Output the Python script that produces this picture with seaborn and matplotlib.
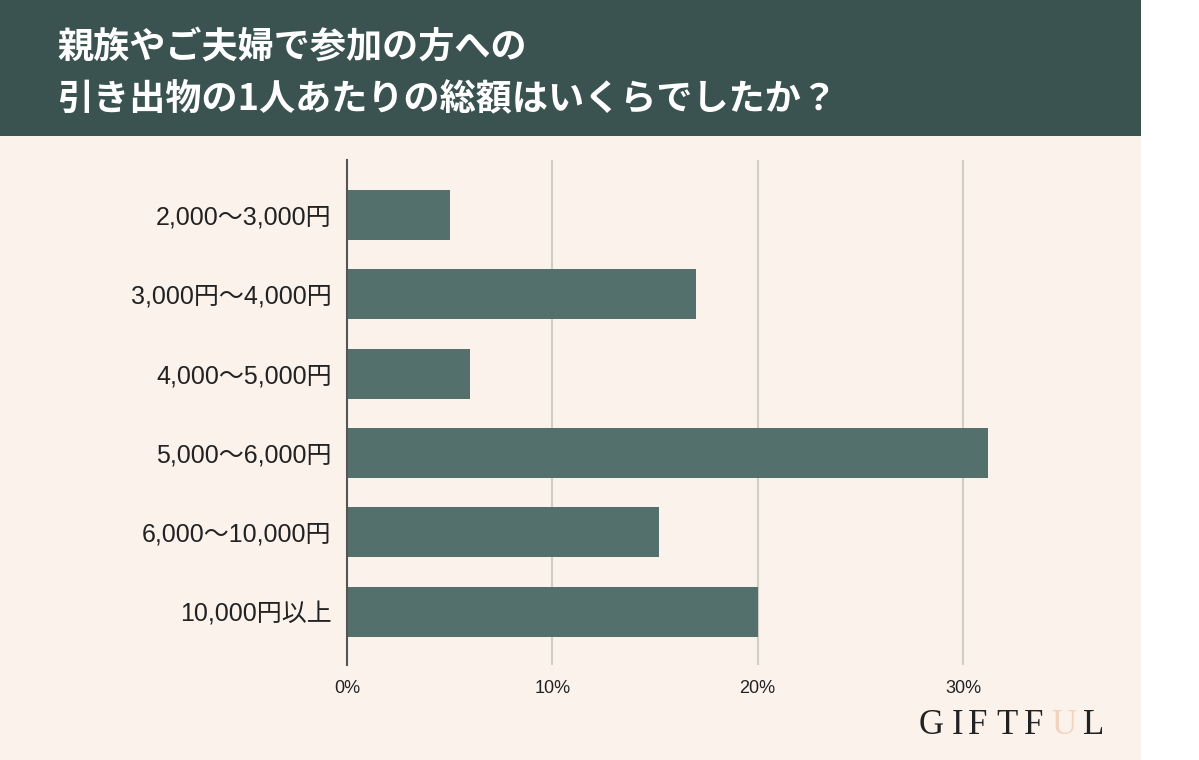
import matplotlib
matplotlib.use("Agg")
import matplotlib.pyplot as plt
import seaborn as sns
import pandas as pd
from matplotlib.patches import Rectangle

categories = ["2,000～3,000円", "3,000円～4,000円", "4,000～5,000円",
              "5,000～6,000円", "6,000～10,000円", "10,000円以上"]
values = [5.0, 17.0, 6.0, 31.2, 15.2, 20.0]
xticks = [0, 10, 20, 30]
xticklabels = ["0%", "10%", "20%", "30%"]
title_lines = ["親族やご夫婦で参加の方への", "引き出物の1人あたりの総額はいくらでしたか？"]

sns.set_theme(style="white")
plt.rcParams["font.family"] = ["Liberation Sans", "Noto Sans CJK JP", "DejaVu Sans"]

W, H = 1199, 760
fig = plt.figure(figsize=(W / 100, H / 100), dpi=100, facecolor="white")

# backgrounds
fig.patches.append(Rectangle((0, 0), 1141 / W, 1, transform=fig.transFigure,
                             facecolor="#FBF2EC", edgecolor="none", zorder=-10))
fig.patches.append(Rectangle((0, 1 - 136 / H), 1141 / W, 136 / H, transform=fig.transFigure,
                             facecolor="#3A5350", edgecolor="none", zorder=-9))

ax_left, ax_w = 347 / W, 718.6 / W
ax_bottom, ax_h = (H - 665) / H, 505 / H
ax = fig.add_axes([ax_left, ax_bottom, ax_w, ax_h])
ax.set_facecolor("none")
ax.set_zorder(2)

df = pd.DataFrame({"cat": categories, "val": values})
sns.barplot(data=df, y="cat", x="val", orient="h", color="#54706D", saturation=1,
            width=0.63, ax=ax, zorder=3, linewidth=0, edgecolor="none")

ax.set_xlim(0, 35)
ax.set_ylim(5.67, -0.69)
ax.set_xticks(xticks)
ax.set_xticklabels(xticklabels, fontsize=13, color="#222222")
ax.set_ylabel("")
ax.set_xlabel("")
for lab in ax.get_yticklabels():
    lab.set_fontsize(18)
    lab.set_color("#222222")
ax.tick_params(axis="y", length=0, pad=11)
ax.tick_params(axis="x", length=0, pad=11)
for x in xticks[1:]:
    ax.axvline(x, color="#D3CDC8", lw=1.5, zorder=1)
for s in ["top", "right", "bottom"]:
    ax.spines[s].set_visible(False)
ax.spines["left"].set_color("#555555")
ax.spines["left"].set_linewidth(1.5)
ax.spines["left"].set_zorder(4)

# title
for line, yy in zip(title_lines, [47, 100]):
    fig.text(57 / W, 1 - yy / H, line, color="white", fontsize=26,
             fontweight="bold", va="center", ha="left",
             family=["Noto Sans CJK JP", "DejaVu Sans"])

# logo
logo = "GIFTFUL"
logo_x = [931, 958, 978, 1007, 1034, 1064, 1094]
for i, (ch, lx) in enumerate(zip(logo, logo_x)):
    col = "#F2D3BA" if i == 5 else "#222222"
    fig.text(lx / W, 1 - 725 / H, ch, color=col, fontsize=25, ha="center",
             va="center", family="Liberation Serif")

fig.savefig("out.png", dpi=100, facecolor=fig.get_facecolor())
